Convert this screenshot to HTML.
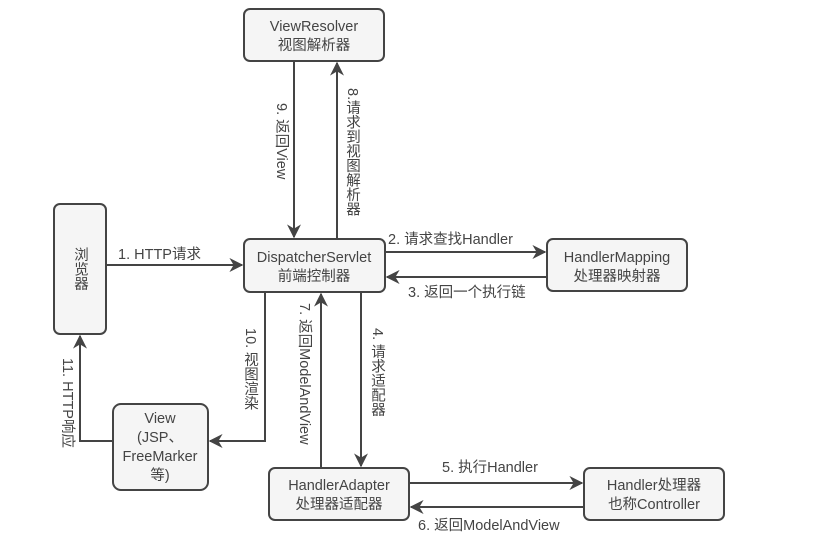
<!DOCTYPE html>
<html><head><meta charset="utf-8"><style>
html,body{margin:0;padding:0;background:#fff;}
svg text{font-family:"Liberation Sans","Noto Sans CJK SC",sans-serif;fill:#444;font-size:14.5px;}
.v{writing-mode:vertical-rl;}
</style></head><body>
<svg width="838" height="551" viewBox="0 0 838 551" xmlns="http://www.w3.org/2000/svg">
<defs><marker id="a" viewBox="0 0 10 10" refX="9" refY="5" markerWidth="7" markerHeight="7" orient="auto-start-reverse" markerUnits="strokeWidth"><path d="M0,0 L10,5 L0,10 L3,5 z" fill="#444"/></marker></defs>
<g fill="#f5f5f5" stroke="#444" stroke-width="2">
<rect x="244" y="9" width="140" height="52" rx="6"/>
<rect x="244" y="239" width="141" height="53" rx="6"/>
<rect x="54" y="204" width="52" height="130" rx="6"/>
<rect x="113" y="404" width="95" height="86" rx="8"/>
<rect x="269" y="468" width="140" height="52" rx="6"/>
<rect x="547" y="239" width="140" height="52" rx="6"/>
<rect x="584" y="468" width="140" height="52" rx="6"/>
</g>
<g stroke="#444" stroke-width="2" fill="none" marker-end="url(#a)">
<path d="M294 61 V237"/>
<path d="M337 239 V63"/>
<path d="M106 265 H242"/>
<path d="M385 252 H545"/>
<path d="M547 277 H387"/>
<path d="M265 292 V441 H210"/>
<path d="M113 441 H80 V336"/>
<path d="M321 468 V294"/>
<path d="M361 292 V466"/>
<path d="M409 483 H582"/>
<path d="M584 507 H411"/>
</g>
<g text-anchor="middle">
<text x="314" y="31">ViewResolver</text><text x="314" y="50">视图解析器</text>
<text x="314" y="262">DispatcherServlet</text><text x="314" y="281">前端控制器</text>
<text x="617" y="262">HandlerMapping</text><text x="617" y="281">处理器映射器</text>
<text x="339" y="490">HandlerAdapter</text><text x="339" y="509">处理器适配器</text>
<text x="654" y="490">Handler处理器</text><text x="654" y="509">也称Controller</text>
<text x="160" y="423">View</text><text x="160" y="442">(JSP、</text><text x="160" y="461">FreeMarker</text><text x="160" y="480">等)</text>
<text class="v" x="80" y="269">浏览器</text>
</g>
<text x="118" y="259">1. HTTP请求</text>
<text x="388" y="244">2. 请求查找Handler</text>
<text x="408" y="297">3. 返回一个执行链</text>
<text x="442" y="472">5. 执行Handler</text>
<text x="418" y="530">6. 返回ModelAndView</text>
<text class="v" x="277" y="103" style="text-orientation:sideways">9. 返回View</text>
<text class="v" x="352" y="88">8.请求到视图解析器</text>
<text class="v" x="300" y="303" style="text-orientation:sideways">7. 返回ModelAndView</text>
<text class="v" x="377" y="328">4. 请求适配器</text>
<text class="v" x="250" y="328">10. 视图渲染</text>
<text class="v" x="63" y="358" style="text-orientation:sideways">11. HTTP响应</text>
</svg>
</body></html>
